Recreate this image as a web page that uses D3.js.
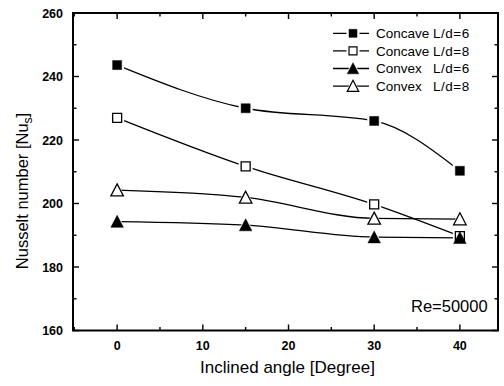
<!DOCTYPE html>
<html>
<head>
<meta charset="utf-8">
<script src="https://cdn.jsdelivr.net/npm/d3@7"></script>
<style>
  html, body { margin: 0; padding: 0; background: #fff; }
  svg { display: block; font-family: Arial, "Liberation Sans", sans-serif; }
</style>
</head>
<body>
<svg id="chart" width="504" height="386"></svg>
<script>
// Inclination angle of the jet (degrees)
const angles = [0, 15, 30, 40];

// Stagnation Nusselt number per configuration
const concave6 = [243.6, 230.0, 226.0, 210.3];
const concave8 = [227.0, 211.7, 199.7, 189.7];
const convex6  = [194.3, 193.2, 189.4, 189.2];
const convex8  = [204.2, 201.9, 195.3, 195.1];

const seriesNames = ["Concave", "Concave", "Convex", "Convex"];
const seriesLd    = ["L/d=6", "L/d=8", "L/d=6", "L/d=8"];
const seriesShape = ["square", "square", "triangle", "triangle"];
const seriesFill  = [true, false, true, false];

const xTicks = [0, 10, 20, 30, 40];
const yTicks = [160, 180, 200, 220, 240, 260];

const series = [concave6, concave8, convex6, convex8].map((vals, i) => ({
  name: seriesNames[i], ld: seriesLd[i], shape: seriesShape[i], filled: seriesFill[i],
  points: angles.map((a, j) => ({ x: a, y: vals[j] }))
}));

const svg = d3.select("#chart");
const L = 73, R = 498, T = 13, B = 330.5;

const x = d3.scaleLinear().domain([-5.15, 44.45]).range([L, R]);
const y = d3.scaleLinear().domain([160, 260]).range([B, T]);

// Marker shapes
const squareType = { draw(ctx, size) { const h = Math.sqrt(size) / 2; ctx.rect(-h, -h, 2 * h, 2 * h); } };
const triangleType = { draw(ctx, size) {
  const w = Math.sqrt(size); const hw = w / 2, hh = w * 0.46;
  ctx.moveTo(0, -hh - 0.5); ctx.lineTo(hw, hh); ctx.lineTo(-hw, hh); ctx.closePath();
} };
function symbolPath(shape, pad) {
  const base = shape === "square" ? 9 : 12.5;
  const s = base + pad;
  return d3.symbol().type(shape === "square" ? squareType : triangleType).size(s * s)();
}

// Frame
svg.append("rect").attr("x", L).attr("y", T).attr("width", R - L).attr("height", B - T)
  .attr("fill", "none").attr("stroke", "#000").attr("stroke-width", 2);

// Inward ticks on all four sides
const g = svg.append("g").attr("stroke", "#000").attr("stroke-width", 1.4);
const xMinor = d3.range(-5, 45, 5).filter(v => v >= -5 && v <= 44);
xMinor.forEach(v => {
  const len = v % 10 === 0 ? 6 : 3.5;
  g.append("line").attr("x1", x(v)).attr("x2", x(v)).attr("y1", B).attr("y2", B - len);
  g.append("line").attr("x1", x(v)).attr("x2", x(v)).attr("y1", T).attr("y2", T + len);
});
d3.range(160, 261, 10).forEach(v => {
  const len = v % 20 === 0 ? 6 : 3.5;
  g.append("line").attr("x1", L).attr("x2", L + len).attr("y1", y(v)).attr("y2", y(v));
  g.append("line").attr("x1", R).attr("x2", R - len).attr("y1", y(v)).attr("y2", y(v));
});

// Tick labels
svg.append("g").selectAll("text").data(yTicks).join("text")
  .attr("x", 63).attr("y", d => y(d)).attr("dy", "0.36em")
  .attr("text-anchor", "end").attr("font-size", 12.5).attr("font-weight", "bold")
  .text(d => d);
svg.append("g").selectAll("text").data(xTicks).join("text")
  .attr("x", d => x(d)).attr("y", 349.5)
  .attr("text-anchor", "middle").attr("font-size", 12.5).attr("font-weight", "bold")
  .text(d => d);

// Axis titles
svg.append("text").attr("x", 287.5).attr("y", 372.5).attr("text-anchor", "middle")
  .attr("font-size", 17).text("Inclined angle [Degree]");
const yt = svg.append("text").attr("transform", "translate(28,191) rotate(-90)")
  .attr("text-anchor", "middle").attr("font-size", 16.5);
yt.append("tspan").text("Nusselt number [Nu");
yt.append("tspan").attr("font-size", 12).attr("dy", 4).text("s");
yt.append("tspan").attr("dy", -4).text("]");

// Curves
const line = d3.line().x(d => x(d.x)).y(d => y(d.y)).curve(d3.curveMonotoneX);
svg.append("g").selectAll("path").data(series).join("path")
  .attr("d", d => line(d.points)).attr("fill", "none")
  .attr("stroke", "#000").attr("stroke-width", 1.3);

// White halos leave a small gap between curve and marker
const flat = series.flatMap(s => s.points.map(p => ({ ...p, s })));
svg.append("g").selectAll("path").data(flat).join("path")
  .attr("transform", d => `translate(${x(d.x)},${y(d.y)})`)
  .attr("d", d => symbolPath(d.s.shape, 5)).attr("fill", "#fff");

// Markers: open ones first so the filled triangle sits on top
const ordered = flat.slice().sort((a, b) => (a.s.filled - b.s.filled));
svg.append("g").selectAll("path").data(ordered).join("path")
  .attr("transform", d => `translate(${x(d.x)},${y(d.y)})`)
  .attr("d", d => symbolPath(d.s.shape, 0))
  .attr("fill", d => d.s.filled ? "#000" : "#fff")
  .attr("stroke", "#000").attr("stroke-width", d => d.s.filled ? 0.5 : 1.3);

// Legend
const leg = svg.append("g");
series.forEach((s, i) => {
  const ly = 33.3 + i * 17.6;
  leg.append("line").attr("x1", 333).attr("x2", 369).attr("y1", ly).attr("y2", ly)
    .attr("stroke", "#000").attr("stroke-width", 1.3);
  leg.append("path").attr("transform", `translate(353,${ly})`)
    .attr("d", symbolPath(s.shape, 4)).attr("fill", "#fff");
  leg.append("path").attr("transform", `translate(353,${ly})`)
    .attr("d", symbolPath(s.shape, -1))
    .attr("fill", s.filled ? "#000" : "#fff")
    .attr("stroke", "#000").attr("stroke-width", s.filled ? 0.5 : 1.2);
  leg.append("text").attr("x", 376).attr("y", ly).attr("dy", "0.36em")
    .attr("font-size", 13.5).text(s.name);
  leg.append("text").attr("x", 433).attr("y", ly).attr("dy", "0.36em")
    .attr("font-size", 13.5).attr("letter-spacing", 0.5).text(s.ld);
});

// Reynolds number annotation
svg.append("text").attr("x", 411).attr("y", 312).attr("font-size", 16.5).text("Re=50000");
</script>
</body>
</html>
